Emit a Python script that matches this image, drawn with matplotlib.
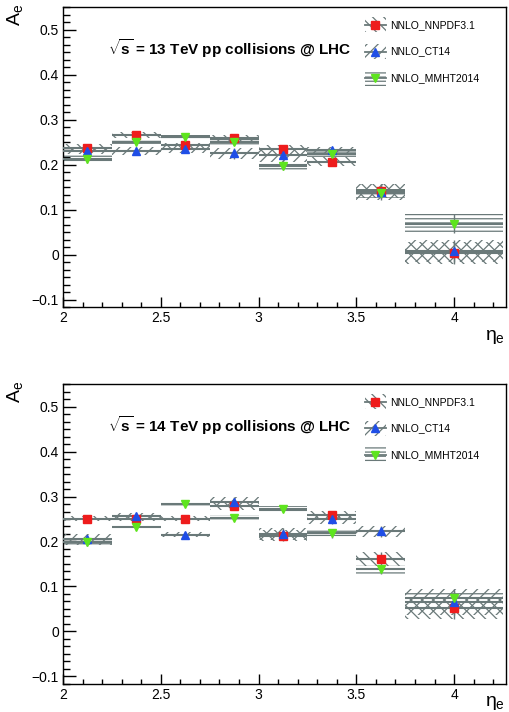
import matplotlib
matplotlib.use('Agg')
import matplotlib.pyplot as plt
from matplotlib.patches import Rectangle
from matplotlib.ticker import MultipleLocator, FuncFormatter
import numpy as np

plt.rcParams['font.family'] = ['Liberation Sans', 'DejaVu Sans']
plt.rcParams['mathtext.fontset'] = 'custom'
plt.rcParams['mathtext.rm'] = 'Liberation Sans'
plt.rcParams['mathtext.it'] = 'Liberation Sans'
plt.rcParams['mathtext.bf'] = 'Liberation Sans:bold'
plt.rcParams['hatch.linewidth'] = 0.9

# eta bins
edges = [2.0, 2.25, 2.5, 2.75, 3.0, 3.25, 3.5, 3.75, 4.25]
centres = [2.125, 2.375, 2.625, 2.875, 3.125, 3.375, 3.625, 4.0]

# 13 TeV: central value and uncertainty per PDF set
nnpdf_13 = [0.238, 0.266, 0.243, 0.260, 0.234, 0.207, 0.142, 0.003]
nnpdf_13_err = [0.008, 0.006, 0.006, 0.007, 0.010, 0.010, 0.015, 0.025]
ct14_13 = [0.231, 0.230, 0.234, 0.225, 0.222, 0.233, 0.139, 0.008]
ct14_13_err = [0.008, 0.009, 0.008, 0.013, 0.015, 0.006, 0.017, 0.025]
mmht_13 = [0.213, 0.251, 0.262, 0.251, 0.197, 0.223, 0.136, 0.069]
mmht_13_err = [0.010, 0.005, 0.004, 0.008, 0.009, 0.007, 0.011, 0.022]

# 14 TeV
nnpdf_14 = [0.251, 0.251, 0.251, 0.279, 0.213, 0.258, 0.161, 0.052]
nnpdf_14_err = [0.006, 0.005, 0.005, 0.010, 0.012, 0.009, 0.015, 0.025]
ct14_14 = [0.205, 0.257, 0.215, 0.287, 0.216, 0.250, 0.223, 0.065]
ct14_14_err = [0.012, 0.006, 0.005, 0.011, 0.013, 0.011, 0.012, 0.030]
mmht_14 = [0.199, 0.232, 0.283, 0.253, 0.272, 0.218, 0.138, 0.075]
mmht_14_err = [0.010, 0.003, 0.003, 0.006, 0.006, 0.010, 0.010, 0.015]

labels = ['NNLO_NNPDF3.1', 'NNLO_CT14', 'NNLO_MMHT2014']
colours = ['#ee1c1c', '#1f4ee6', '#5ee41e']
markers = ['s', '^', 'v']
hatches = ['\\\\\\', '///', '----']
grey = '#6a7979'


def draw_panel(ax, series, title, eta_y):
	lo = np.array(edges[:-1])
	hi = np.array(edges[1:])
	for (vals, errs), hat in zip(series, hatches):
		for x0, x1, v, e in zip(lo, hi, vals, errs):
			ax.add_patch(Rectangle((x0, v - e), x1 - x0, 2 * e, facecolor='none',
								   edgecolor=grey, hatch=hat, linewidth=0, zorder=2))
		ax.hlines(vals, lo, hi, colors=grey, linewidth=1.5, zorder=3)
	for (vals, errs), col, mk in zip(series, colours, markers):
		ax.errorbar(centres, vals, yerr=errs, fmt='none', ecolor=grey, elinewidth=1.0, zorder=4)
		ax.plot(centres, vals, linestyle='none', marker=mk, markersize=6,
				markerfacecolor=col, markeredgecolor=col, zorder=5)

	ax.set_xlim(2, 4.265)
	ax.set_ylim(-0.1167, 0.551)
	ax.xaxis.set_major_locator(MultipleLocator(0.5))
	ax.xaxis.set_minor_locator(MultipleLocator(0.1))
	ax.yaxis.set_major_locator(MultipleLocator(0.1))
	ax.yaxis.set_minor_locator(MultipleLocator(0.1 / 6))
	fmt = FuncFormatter(lambda v, p: ('%g' % round(v, 3)).replace('-', '\u2212'))
	ax.xaxis.set_major_formatter(fmt)
	ax.yaxis.set_major_formatter(fmt)
	ax.tick_params(which='both', direction='in', labelsize=10, pad=3,
				   top=False, right=False)
	ax.tick_params(axis='y', which='major', length=9.4, width=1)
	ax.tick_params(axis='y', which='minor', length=4.7, width=1)
	ax.tick_params(axis='x', which='major', length=7.2, width=1)
	ax.tick_params(axis='x', which='minor', length=3.6, width=1)
	for sp in ax.spines.values():
		sp.set_linewidth(1)

	ax.text(0.101, 0.862, title, transform=ax.transAxes, fontsize=11,
			fontweight='bold', ha='left', va='center')
	ax.text(-0.109, 1.01, r'A$_{e}$', transform=ax.transAxes, fontsize=14,
			rotation=90, ha='center', va='top')
	ax.text(0.975, eta_y, r'$\eta_{e}$', transform=ax.transAxes, fontsize=14,
			ha='center', va='center')

	# legend: hatched box with centre line and marker
	bx0, bw, bh = 0.6815, 0.0475, 0.05
	for i, (lab, col, mk, hat) in enumerate(zip(labels, colours, markers, hatches)):
		y = 0.94 - i * 0.0885
		ax.add_patch(Rectangle((bx0, y - bh / 2), bw, bh, transform=ax.transAxes,
							   facecolor='none', edgecolor=grey, hatch=hat, linewidth=0))
		ax.plot([bx0, bx0 + bw], [y, y], transform=ax.transAxes, color=grey, linewidth=1.3)
		ax.plot([bx0 + bw / 2], [y], transform=ax.transAxes, linestyle='none', marker=mk,
				markersize=6, markerfacecolor=col, markeredgecolor=col)
		ax.text(bx0 + bw + 0.009, y, lab, transform=ax.transAxes, fontsize=7.5,
				ha='left', va='center')


fig = plt.figure(figsize=(5.1, 7.12), dpi=100)
ax1 = fig.add_axes([0.1235, 0.5688, 0.8685, 0.4214])
ax2 = fig.add_axes([0.1235, 0.0400, 0.8685, 0.4207])

draw_panel(ax1, [(nnpdf_13, nnpdf_13_err), (ct14_13, ct14_13_err), (mmht_13, mmht_13_err)],
		   r'$\mathbf{\sqrt{s}}$ = 13 TeV pp collisions @ LHC', -0.1)
draw_panel(ax2, [(nnpdf_14, nnpdf_14_err), (ct14_14, ct14_14_err), (mmht_14, mmht_14_err)],
		   r'$\mathbf{\sqrt{s}}$ = 14 TeV pp collisions @ LHC', -0.065)

fig.savefig('out.png', dpi=100)
